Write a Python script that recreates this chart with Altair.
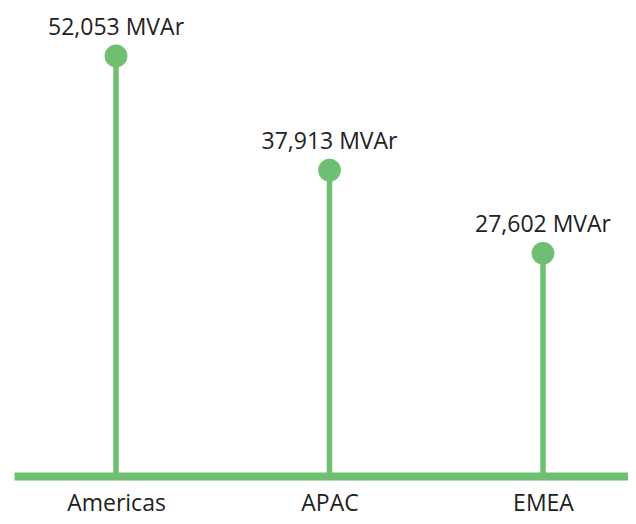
import altair as alt
import pandas as pd

regions = ["Americas", "APAC", "EMEA"]
values = [52053, 37913, 27602]
labels = ["52,053 MVAr", "37,913 MVAr", "27,602 MVAr"]

df = pd.DataFrame({"region": regions, "value": values, "label": labels})

GREEN = "#6FBF73"
FONT = "Open Sans"
TEXT = "#222222"

x = alt.X("region:N", sort=regions, title=None,
          scale=alt.Scale(type="point", padding=0.438, align=0.5455),
          axis=alt.Axis(domain=True, domainColor=GREEN, domainWidth=8,
                        ticks=False, tickSize=0, grid=False, labelAngle=0,
                        labelFont=FONT, labelFontSize=23, labelColor=TEXT,
                        labelBaseline="alphabetic", labelPadding=34))
y = alt.Y("value:Q", title=None,
          scale=alt.Scale(domain=[0, 58000], nice=False, zero=True),
          axis=None)

base = alt.Chart(df)

stems = base.mark_rule(color=GREEN, strokeWidth=5.5).encode(
    x=x, y=y, y2=alt.datum(0))
dots = base.mark_circle(color=GREEN, size=520, opacity=1).encode(x=x, y=y)
text = base.mark_text(font=FONT, fontSize=23, color=TEXT,
                      baseline="alphabetic", dy=-21).encode(x=x, y=y, text="label:N")

chart = (stems + dots + text).properties(
    width=614, height=468,
    autosize=alt.AutoSizeParams(type="none"),
    padding={"left": 6, "top": 0, "right": 0, "bottom": 40},
).configure_view(stroke=None)

chart.save("out.html", embed_options={"renderer": "svg", "actions": False})
